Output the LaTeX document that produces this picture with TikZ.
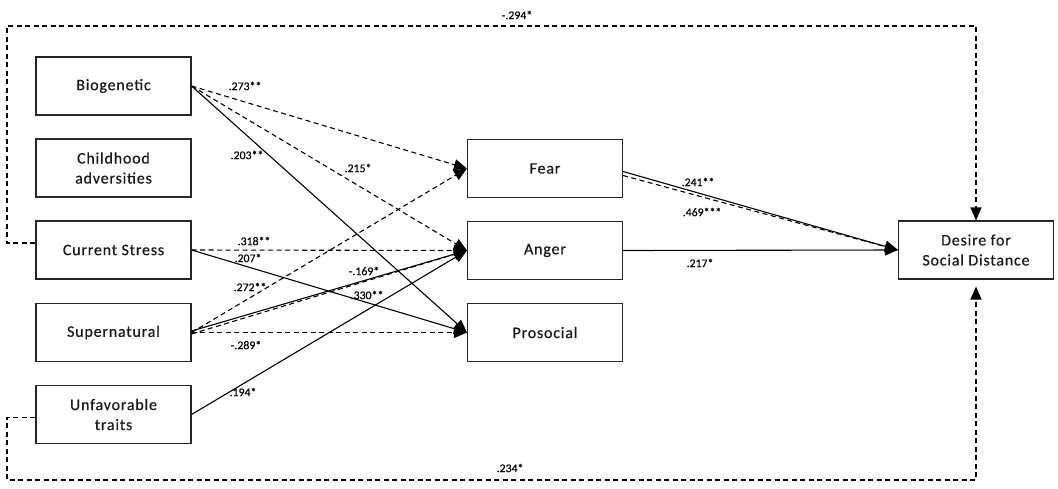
\documentclass[tikz,border=0pt]{standalone}
\usepackage{fontspec}
\setmainfont{Carlito}
\newfontfamily\boxfont[LetterSpace=5,FakeBold=0.5]{Carlito}
\newfontfamily\labfont[FakeBold=0.4]{Carlito}
\usetikzlibrary{arrows.meta,calc}
\begin{document}
\begin{tikzpicture}[x=1pt,y=-1pt,
 box/.style={draw=black!85, line width=1.1pt, minimum width=155pt, minimum height=58pt, inner sep=0pt, align=center, font=\boxfont\fontsize{16}{20}\selectfont, text=black!90},
 lab/.style={font=\labfont\fontsize{11.8}{13}\selectfont, inner sep=0pt},
 conn/.style={line width=1.1pt, -{Triangle[length=13pt,width=11pt]}},
 dsh/.style={conn, dash pattern=on 5pt off 3.5pt},
]
\useasboundingbox (0,0) rectangle (1058,488);
% boxes
\node[box] (bio) at (113.5,86) {Biogenetic};
\node[box] (chi) at (113.5,168) {Childhood\\adversities};
\node[box] (cs) at (113.5,250) {Current Stress};
\node[box] (sup) at (113.5,332.5) {Supernatural};
\node[box] (unf) at (113.5,414.5) {Unfavorable\\traits};
\node[box] (fear) at (545,168.5) {Fear};
\node[box] (ang) at (545,250.5) {Anger};
\node[box] (pro) at (545,332.5) {Prosocial};
\node[box] (dsd) at (976,250) {Desire for\\Social Distance};
% connectors
\draw[dsh] (bio.east) -- (fear.west);
\draw[dsh] (bio.east) -- (ang.west);
\draw[conn] (bio.east) -- (pro.west);
\draw[dsh] (cs.east) -- (ang.west);
\draw[conn] (cs.east) -- (pro.west);
\draw[dsh] (sup.east) -- (fear.west);
\draw[conn] ([yshift=1.5pt]sup.east) -- (ang.west);
\draw[dsh] ([yshift=-1.5pt]sup.east) -- (ang.west);
\draw[dsh] (sup.east) -- (pro.west);
\draw[conn] (unf.east) -- (ang.west);
\draw[conn] ([yshift=-3pt]fear.east) -- (dsd.west);
\draw[dsh] ([yshift=-7pt]fear.east) -- (dsd.west);
\draw[conn] (ang.east) -- (dsd.west);
% outer paths
\coordinate (tl) at (7,26);
\coordinate (bl) at (7,480);
\coordinate (csl) at ([yshift=7pt]cs.west);
\coordinate (unl) at ([yshift=-3pt]unf.west);
\draw[dsh] (csl) -- (csl -| tl) -- (tl) -| (dsd.north);
\draw[dsh, shorten >=7pt] (unl) -- (unl -| bl) -- (bl) -| (dsd.south);
% labels
\node[lab] (l1) at (517,15) {-.294*};
\node[lab] (l2) at (245,86) {.273**};
\node[lab] (l3) at (247,155) {.203**};
\node[lab] (l4) at (358,168) {.215*};
\node[lab] (l5) at (254,241) {.318**};
\node[lab] (l6) at (248,258) {.207*};
\node[lab] (l7) at (250,287) {.272**};
\node[lab] (l8) at (364,271) {-.169*};
\node[lab] (l9) at (367,295) {.330**};
\node[lab] (l10) at (246,345) {-.289*};
\node[lab] (l11) at (243,392) {.194*};
\node[lab] (l12) at (510,468) {.234*};
\node[lab] (l13) at (698,182) {.241**};
\node[lab] (l14) at (702,212) {.469***};
\node[lab] (l15) at (700,263) {.217*};
\end{tikzpicture}
\end{document}
